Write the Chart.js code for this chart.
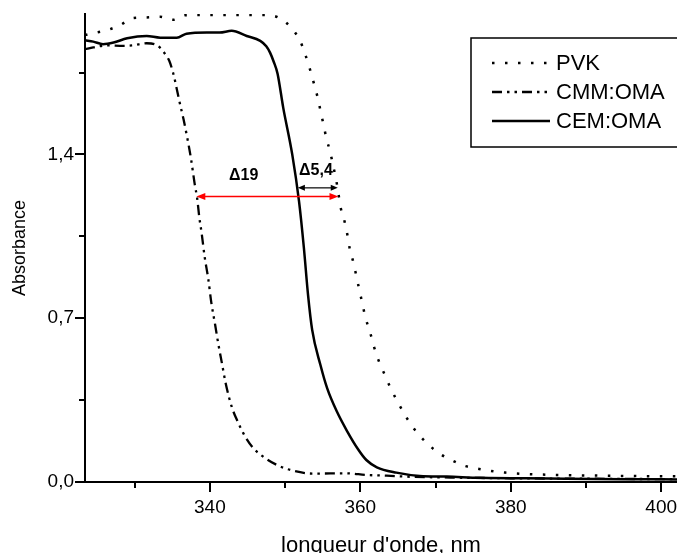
<!DOCTYPE html>
<html>
<head>
<meta charset="utf-8">
<script src="https://cdn.jsdelivr.net/npm/chart.js@4.4.1/dist/chart.umd.min.js"></script>
<style>
  html, body { margin: 0; padding: 0; background: #fff; }
  #wrap { width: 677px; height: 553px; }
</style>
</head>
<body>
<div id="wrap"><canvas id="absChart" width="677" height="553"></canvas></div>
<script>
// values
const pvkX = [323.4, 324.5, 326.3, 328.1, 329.7, 331.5, 333.4, 335.1, 336.8, 340, 344, 347.3, 349.1, 350.8, 352.0, 352.7, 353.3, 353.8, 354.3, 354.7, 355.1, 355.5, 356.0, 356.4, 356.8, 357.1, 357.4, 357.9, 358.3, 358.6, 359.1, 359.5, 359.9, 360.3, 360.7, 361.3, 361.8, 362.4, 363.2, 364.0, 364.9, 366.0, 367.2, 368.8, 370.6, 372.3, 374.0, 375.8, 377.7, 379.4, 381.2, 385, 390, 395, 402.1];
const pvkY = [1.91, 1.918, 1.931, 1.953, 1.982, 1.985, 1.988, 1.975, 1.995, 1.996, 1.996, 1.996, 1.985, 1.942, 1.885, 1.825, 1.764, 1.707, 1.647, 1.588, 1.528, 1.468, 1.41, 1.35, 1.29, 1.23, 1.171, 1.114, 1.053, 0.996, 0.936, 0.876, 0.817, 0.758, 0.701, 0.640, 0.580, 0.522, 0.462, 0.403, 0.346, 0.283, 0.225, 0.168, 0.120, 0.091, 0.068, 0.056, 0.046, 0.040, 0.035, 0.031, 0.028, 0.026, 0.024];

const cmmX = [323.4, 324.5, 326.3, 328.5, 329.8, 331.6, 332.9, 333.8, 334.6, 335.1, 335.6, 336.0, 336.5, 337.0, 337.5, 338.0, 338.3, 338.6, 338.9, 339.3, 339.8, 340.2, 340.7, 341.1, 341.6, 342.1, 342.9, 343.8, 344.7, 345.8, 347.1, 348.9, 351.1, 353.7, 358.2, 360.8, 363.5, 366.1, 372, 380, 390, 402.1];
const cmmY = [1.85, 1.857, 1.866, 1.864, 1.866, 1.875, 1.868, 1.84, 1.80, 1.75, 1.68, 1.62, 1.55, 1.47, 1.38, 1.27, 1.215, 1.13, 1.065, 0.964, 0.865, 0.765, 0.672, 0.594, 0.508, 0.422, 0.322, 0.251, 0.194, 0.144, 0.108, 0.073, 0.048, 0.036, 0.037, 0.030, 0.027, 0.023, 0.019, 0.016, 0.014, 0.012];

const cemX = [323.4, 324.5, 325.8, 327.2, 329.0, 331.6, 333.4, 335.6, 336.9, 339.6, 341.3, 342.9, 344.9, 346.7, 347.5, 348.0, 348.5, 349.0, 349.75, 350.95, 351.85, 352.5, 353.05, 353.6, 354.7, 355.6, 356.9, 358.2, 359.7, 360.8, 362.2, 364.8, 367.9, 371.5, 375.9, 385, 395, 402.1];
const cemY = [1.888, 1.882, 1.871, 1.878, 1.896, 1.906, 1.899, 1.899, 1.916, 1.921, 1.921, 1.928, 1.906, 1.885, 1.862, 1.835, 1.795, 1.745, 1.6, 1.4, 1.2, 1.0, 0.8, 0.65, 0.5, 0.4, 0.3, 0.22, 0.14, 0.094, 0.063, 0.040, 0.026, 0.023, 0.018, 0.015, 0.012, 0.011];

const seriesNames = ['PVK', 'CMM:OMA', 'CEM:OMA'];

const xTicks = [340, 360, 380, 400];
const xMinorTicks = [330, 350, 370, 390];
const yTicks = [0, 0.7, 1.4];
const yMinorTicks = [0.35, 1.05, 1.75];

// shift arrows: [from, to] in nm and the absorbance they sit at
const shift19X = [338.2, 357.1];
const shift19Y = 1.22;
const shift54X = [351.7, 357.0];
const shift54Y = 1.257;
const shiftLabels = ['\u039419', '\u03945,4'];
const shiftLabelX = [344.5, 354.1];
const shiftLabelY = [1.31, 1.33];

const FONT = "'Liberation Sans', Arial, sans-serif";

function toPoints(xs, ys) {
    return xs.map((x, i) => ({ x: x, y: ys[i] }));
}

function arrowHead(ctx, x, y, dir, len, half) {
    ctx.beginPath();
    ctx.moveTo(x, y);
    ctx.lineTo(x - dir * len, y - half);
    ctx.lineTo(x - dir * len, y + half);
    ctx.closePath();
    ctx.fill();
}

function doubleArrow(ctx, x1, x2, y, color, width, len, half) {
    ctx.save();
    ctx.strokeStyle = color;
    ctx.fillStyle = color;
    ctx.lineWidth = width;
    ctx.beginPath();
    ctx.moveTo(x1 + len * 0.6, y);
    ctx.lineTo(x2 - len * 0.6, y);
    ctx.stroke();
    arrowHead(ctx, x1, y, -1, len, half);
    arrowHead(ctx, x2, y, 1, len, half);
    ctx.restore();
}

const extras = {
    id: 'extras',
    afterDraw(chart) {
        const ctx = chart.ctx;
        const xs = chart.scales.x, ys = chart.scales.y;
        const area = chart.chartArea;

        // minor ticks
        ctx.save();
        ctx.strokeStyle = '#000';
        ctx.lineWidth = 2;
        xMinorTicks.forEach(v => {
            const px = Math.round(xs.getPixelForValue(v));
            ctx.beginPath();
            ctx.moveTo(px, area.bottom);
            ctx.lineTo(px, area.bottom + 6);
            ctx.stroke();
        });
        yMinorTicks.forEach(v => {
            const py = Math.round(ys.getPixelForValue(v));
            ctx.beginPath();
            ctx.moveTo(area.left, py);
            ctx.lineTo(area.left - 6, py);
            ctx.stroke();
        });
        ctx.restore();

        // shift arrows and their labels
        doubleArrow(ctx, xs.getPixelForValue(shift54X[0]), xs.getPixelForValue(shift54X[1]),
            ys.getPixelForValue(shift54Y), '#000', 1.2, 7, 3);
        doubleArrow(ctx, xs.getPixelForValue(shift19X[0]), xs.getPixelForValue(shift19X[1]),
            ys.getPixelForValue(shift19Y), '#ff0000', 1.5, 9, 3.5);
        ctx.save();
        ctx.fillStyle = '#000';
        ctx.font = 'bold 16px ' + FONT;
        ctx.textAlign = 'center';
        ctx.textBaseline = 'middle';
        shiftLabels.forEach((t, i) => {
            ctx.fillText(t, xs.getPixelForValue(shiftLabelX[i]), ys.getPixelForValue(shiftLabelY[i]));
        });
        ctx.restore();

        // legend box inside the plot
        const bx = 471, by = 38, bw = 230, bh = 109;
        ctx.save();
        ctx.fillStyle = '#fff';
        ctx.fillRect(bx, by, bw, bh);
        ctx.strokeStyle = '#000';
        ctx.lineWidth = 1.5;
        ctx.strokeRect(bx, by, bw, bh);
        ctx.font = '22px ' + FONT;
        ctx.textBaseline = 'middle';
        ctx.textAlign = 'left';
        chart.data.datasets.forEach((ds, i) => {
            const y = 63 + i * 29;
            ctx.strokeStyle = '#000';
            ctx.lineWidth = ds.borderWidth;
            ctx.setLineDash(ds.borderDash || []);
            ctx.beginPath();
            ctx.moveTo(492, y);
            ctx.lineTo(550, y);
            ctx.stroke();
            ctx.setLineDash([]);
            ctx.fillStyle = '#000';
            ctx.fillText(ds.label, 556, y + 1);
        });
        ctx.restore();
    }
};

const ctx = document.getElementById('absChart').getContext('2d');
const absChart = new Chart(ctx, {
    type: 'line',
    data: {
        datasets: [{
            label: seriesNames[0],
            data: toPoints(pvkX, pvkY),
            borderColor: '#000',
            borderWidth: 2.5,
            borderDash: [2.5, 10.5],
            pointRadius: 0,
            cubicInterpolationMode: 'monotone'
        }, {
            label: seriesNames[1],
            data: toPoints(cmmX, cmmY),
            borderColor: '#000',
            borderWidth: 2.3,
            borderDash: [10, 5, 2.5, 5, 2.5, 5],
            pointRadius: 0,
            cubicInterpolationMode: 'monotone'
        }, {
            label: seriesNames[2],
            data: toPoints(cemX, cemY),
            borderColor: '#000',
            borderWidth: 2.5,
            pointRadius: 0,
            cubicInterpolationMode: 'monotone'
        }]
    },
    options: {
        responsive: false,
        animation: false,
        devicePixelRatio: 1,
        layout: { padding: { top: 14, right: 0, left: 0, bottom: 0 } },
        plugins: {
            legend: { display: false },
            tooltip: { enabled: false }
        },
        scales: {
            x: {
                type: 'linear',
                min: 323.4,
                max: 402.1,
                afterBuildTicks: scale => { scale.ticks = xTicks.map(v => ({ value: v })); },
                afterFit: scale => {
                    scale.height = 71;
                    scale.paddingLeft = 0;
                    scale.paddingRight = 0;
                },
                ticks: {
                    color: '#000',
                    font: { family: FONT, size: 19 },
                    padding: 4,
                    maxRotation: 0,
                    callback: v => String(v)
                },
                grid: { display: true, drawOnChartArea: false, color: '#000', lineWidth: 2, tickLength: 10 },
                border: { display: true, color: '#000', width: 2 },
                title: {
                    display: true,
                    text: "longueur d'onde, nm",
                    color: '#000',
                    font: { family: FONT, size: 22, lineHeight: 0.65 },
                    padding: { top: 0, bottom: 0 }
                }
            },
            y: {
                min: 0,
                max: 2.0,
                afterBuildTicks: scale => { scale.ticks = yTicks.map(v => ({ value: v })); },
                afterFit: scale => {
                    scale.width = 85;
                    scale.paddingTop = 0;
                    scale.paddingBottom = 0;
                },
                ticks: {
                    color: '#000',
                    font: { family: FONT, size: 19 },
                    padding: 1,
                    callback: v => v.toFixed(1).replace('.', ',')
                },
                grid: { display: true, drawOnChartArea: false, color: '#000', lineWidth: 2, tickLength: 10 },
                border: { display: true, color: '#000', width: 2 },
                title: {
                    display: true,
                    text: 'Absorbance',
                    color: '#000',
                    font: { family: FONT, size: 18 },
                    padding: { top: 9, bottom: 0 }
                }
            }
        }
    },
    plugins: [extras]
});
</script>
</body>
</html>
